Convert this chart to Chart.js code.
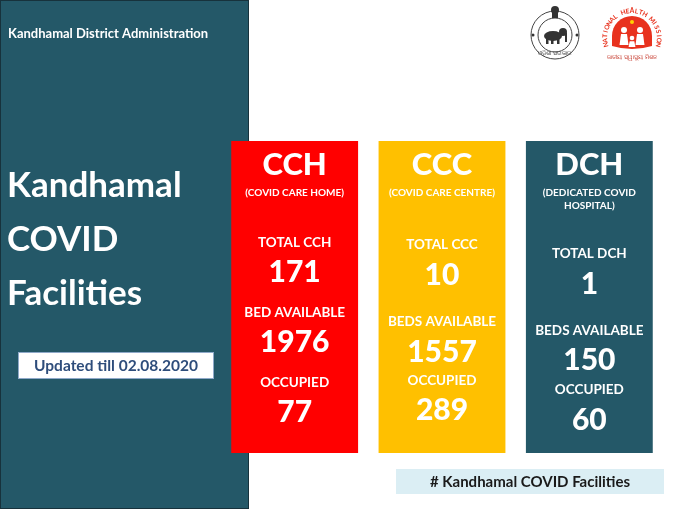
<!DOCTYPE html>
<html>
<head>
<meta charset="utf-8">
<script src="https://cdn.jsdelivr.net/npm/chart.js@4/dist/chart.umd.min.js"></script>
<style>
html, body { margin: 0; padding: 0; background: #fff; }
#wrap { width: 680px; height: 510px; position: relative; }
</style>
</head>
<body>
<div id="wrap"><canvas id="facilityChart" width="680" height="510"></canvas></div>
<script>
var facilities = ['CCH', 'CCC', 'DCH'];
var facilityNames = [['(COVID CARE HOME)'], ['(COVID CARE CENTRE)'], ['(DEDICATED COVID', 'HOSPITAL)']];
var totalLabels = ['TOTAL CCH', 'TOTAL CCC', 'TOTAL DCH'];
var totals = [171, 10, 1];
var bedLabels = ['BED AVAILABLE', 'BEDS AVAILABLE', 'BEDS AVAILABLE'];
var bedsAvailable = [1976, 1557, 150];
var occupiedLabels = ['OCCUPIED', 'OCCUPIED', 'OCCUPIED'];
var occupied = [77, 289, 60];
var panelHeight = [1, 1, 1];

var panelColors = ['#ff0000', '#ffc000', '#245868'];
var teal = '#245868';
var font = 'Lato, "Open Sans", sans-serif';

// vertical offset of each text row from the top of its panel
var rowOffsets = [
    [24, 52, 102, 131, 172, 201, 242, 271],
    [24, 52, 104, 134, 181, 211, 240, 269],
    [24, 52, 113, 143, 190, 219, 249, 279]
];

var backgroundPlugin = {
    id: 'background',
    beforeDraw: function(chart) {
        var ctx = chart.ctx;
        ctx.save();
        ctx.fillStyle = '#fff';
        ctx.fillRect(0, 0, chart.width, chart.height);
        // left teal block
        ctx.fillStyle = teal;
        ctx.fillRect(0, 0, 249, 509);
        ctx.strokeStyle = '#17323c';
        ctx.lineWidth = 1;
        ctx.strokeRect(0.5, 0.5, 248, 508);

        ctx.fillStyle = '#fff';
        ctx.textBaseline = 'middle';
        ctx.textAlign = 'left';
        ctx.font = 'bold 13px ' + font;
        ctx.fillText('Kandhamal District Administration', 8, 34);
        ctx.font = 'bold 35px ' + font;
        ctx.fillText('Kandhamal', 7, 186);
        ctx.fillText('COVID', 7, 240);
        ctx.fillText('Facilities', 7, 294);

        // updated box
        ctx.fillStyle = '#fff';
        ctx.fillRect(18, 352, 196, 27);
        ctx.strokeStyle = '#8fa9c9';
        ctx.strokeRect(18.5, 352.5, 195, 26);
        ctx.fillStyle = '#2e4d7b';
        ctx.textAlign = 'center';
        ctx.font = 'bold 15.5px ' + font;
        ctx.fillText('Updated till 02.08.2020', 116, 366);

        // hashtag box
        ctx.fillStyle = '#dbeef4';
        ctx.fillRect(396, 469, 268, 25);
        ctx.fillStyle = '#1a1a1a';
        ctx.font = 'bold 15px ' + font;
        ctx.fillText('# Kandhamal COVID Facilities', 530, 482);

        drawLogos(ctx);
        ctx.restore();
    }
};

function drawLogos(ctx) {
    // Odisha emblem (rough)
    ctx.strokeStyle = '#444';
    ctx.lineWidth = 1;
    ctx.beginPath();
    ctx.arc(555, 35, 24, 0, Math.PI * 2);
    ctx.stroke();
    ctx.beginPath();
    ctx.arc(555, 35, 17, 0, Math.PI * 2);
    ctx.stroke();
    ctx.fillStyle = '#333';
    // lion capital on top
    ctx.beginPath();
    ctx.arc(555, 10, 4, 0, Math.PI * 2);
    ctx.fill();
    ctx.fillRect(552, 13, 6, 5);
    // elephant-ish body
    ctx.beginPath();
    ctx.ellipse(553, 36, 9, 5, 0, 0, Math.PI * 2);
    ctx.fill();
    ctx.beginPath();
    ctx.arc(563, 32, 4, 0, Math.PI * 2);
    ctx.fill();
    ctx.fillRect(546, 38, 2.5, 6);
    ctx.fillRect(551, 38, 2.5, 6);
    ctx.fillRect(557, 38, 2.5, 6);
    ctx.fillRect(565, 33, 2, 9);
    ctx.beginPath();
    ctx.arc(533, 35, 1.5, 0, Math.PI * 2);
    ctx.arc(577, 35, 1.5, 0, Math.PI * 2);
    ctx.fill();
    ctx.font = '6px ' + font;
    ctx.textAlign = 'center';
    ctx.fillText('ଓଡ଼ିଶା ସରକାର', 555, 53);

    // National Health Mission logo (rough)
    var cx = 632, cy = 36;
    ctx.fillStyle = '#e8321e';
    ctx.beginPath();
    ctx.arc(cx, cy, 20, Math.PI, 0);
    ctx.lineTo(cx + 20, cy + 10);
    ctx.quadraticCurveTo(cx, cy + 16, cx - 20, cy + 10);
    ctx.closePath();
    ctx.fill();
    ctx.fillStyle = '#ffd200';
    ctx.beginPath();
    ctx.arc(cx, cy - 14, 2, 0, Math.PI * 2);
    ctx.fill();
    ctx.fillStyle = '#fff';
    [[cx - 8, cy - 6, 3, 15], [cx + 8, cy - 6, 3, 15], [cx, cy + 2, 2.3, 9]].forEach(function(p) {
        ctx.beginPath();
        ctx.arc(p[0], p[1], p[2], 0, Math.PI * 2);
        ctx.fill();
        ctx.beginPath();
        ctx.moveTo(p[0] - p[2], p[1] + p[2] + 1);
        ctx.lineTo(p[0] + p[2], p[1] + p[2] + 1);
        ctx.lineTo(p[0] + p[2] * 1.5, p[1] + p[3]);
        ctx.lineTo(p[0] - p[2] * 1.5, p[1] + p[3]);
        ctx.closePath();
        ctx.fill();
    });
    ctx.fillStyle = '#e8321e';
    ctx.font = 'bold 6.5px ' + font;
    ctx.textBaseline = 'middle';
    var txt = 'NATIONAL HEALTH MISSION';
    var start = -Math.PI * 1.08;
    var end = Math.PI * 0.08;
    for (var i = 0; i < txt.length; i++) {
        var a = start + (end - start) * i / (txt.length - 1);
        ctx.save();
        ctx.translate(cx + Math.cos(a) * 27, cy + 2 + Math.sin(a) * 27);
        ctx.rotate(a + Math.PI / 2);
        ctx.fillText(txt[i], 0, 0);
        ctx.restore();
    }
    ctx.fillStyle = '#c0281a';
    ctx.font = '6px ' + font;
    ctx.fillText('ଜାତୀୟ ସ୍ୱାସ୍ଥ୍ୟ ମିଶନ', cx, 57);
}

var panelTextPlugin = {
    id: 'panelText',
    afterDatasetsDraw: function(chart) {
        var ctx = chart.ctx;
        var top = chart.chartArea.top;
        var bars = chart.getDatasetMeta(0).data;
        ctx.save();
        ctx.fillStyle = '#fff';
        ctx.textAlign = 'center';
        ctx.textBaseline = 'middle';
        bars.forEach(function(bar, i) {
            var x = bar.x;
            var off = rowOffsets[i];
            ctx.font = '900 31px ' + font;
            ctx.fillText(facilities[i], x, top + off[0]);
            ctx.font = 'bold 10px ' + font;
            facilityNames[i].forEach(function(line, j) {
                ctx.fillText(line, x, top + off[1] + j * 13);
            });
            ctx.font = 'bold 13.5px ' + font;
            ctx.fillText(totalLabels[i], x, top + off[2]);
            ctx.fillText(bedLabels[i], x, top + off[4]);
            ctx.fillText(occupiedLabels[i], x, top + off[6]);
            ctx.font = '900 30px ' + font;
            ctx.fillText(String(totals[i]), x, top + off[3]);
            ctx.fillText(String(bedsAvailable[i]), x, top + off[5]);
            ctx.fillText(String(occupied[i]), x, top + off[7]);
        });
        ctx.restore();
    }
};

let facilityChart = new Chart(document.getElementById('facilityChart').getContext('2d'), {
    type: 'bar',
    data: {
        labels: facilities,
        datasets: [{
            label: 'Facilities',
            data: panelHeight,
            backgroundColor: panelColors,
            borderWidth: 0,
            barPercentage: 1,
            categoryPercentage: 0.861
        }]
    },
    options: {
        responsive: false,
        devicePixelRatio: 1,
        animation: false,
        layout: { padding: { top: 141, bottom: 57, left: 221, right: 17 } },
        plugins: { legend: { display: false }, tooltip: { enabled: false } },
        scales: {
            x: { display: false },
            y: { display: false, min: 0, max: 1 }
        }
    },
    plugins: [backgroundPlugin, panelTextPlugin]
});
</script>
</body>
</html>
